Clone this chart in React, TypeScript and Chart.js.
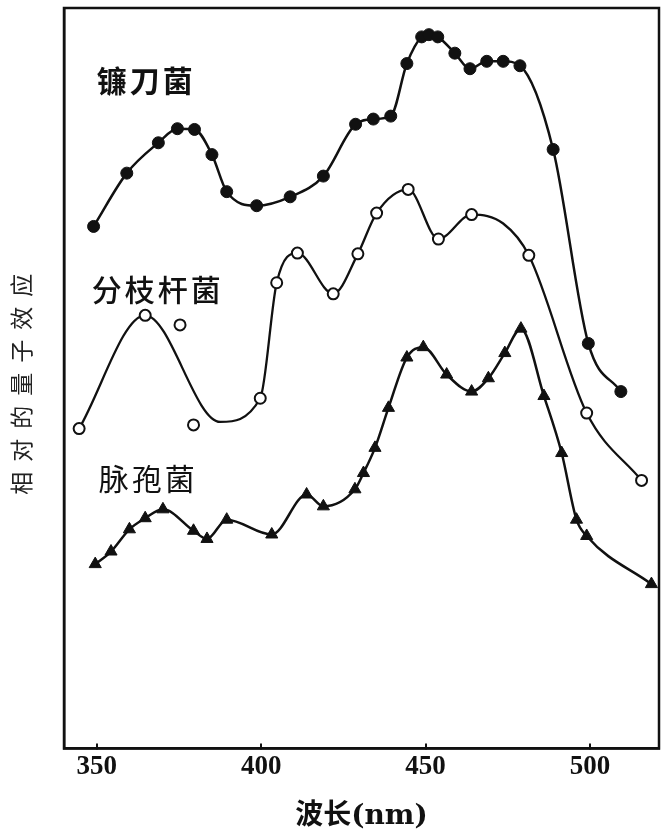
import { useEffect, useRef } from "react";
import { Chart, registerables } from "chart.js";

Chart.register(...registerables);

// ---- axis ----
const xTickValues = [350, 400, 450, 500];
const xRange = [340, 521];
const yRange = [0, 100];
const xTitle = "波长(nm)";
const yTitle = "相对的量子效应";

// ---- 镰刀菌 (filled circles) ----
const fusariumX = [349.0, 359.1, 368.7, 374.5, 379.7, 385.0, 389.5, 398.6, 408.8, 418.9, 428.7, 434.1, 439.4, 444.3, 448.8, 451.0, 453.7, 458.9, 463.5, 468.6, 473.6, 478.7, 488.8, 499.5, 509.4];
const fusariumY = [70.5, 77.7, 81.8, 83.7, 83.6, 80.2, 75.2, 73.3, 74.5, 77.3, 84.3, 85.0, 85.4, 92.5, 96.1, 96.4, 96.1, 93.9, 91.8, 92.8, 92.8, 92.2, 80.9, 54.7, 48.2];

// ---- 分枝杆菌 (open circles) ----
const mycoX = [344.6, 364.7, 399.7, 404.7, 411.0, 421.9, 429.4, 435.1, 444.7, 453.9, 464.0, 481.4, 499.0, 515.7];
const mycoY = [43.2, 58.5, 47.3, 62.9, 66.9, 61.4, 66.8, 72.3, 75.5, 68.8, 72.1, 66.6, 45.3, 36.2];
// measured points lying off the drawn curve
const mycoStrayX = [375.3, 379.4];
const mycoStrayY = [57.2, 43.7];
// curve-only points (where the hand-drawn curve bends between markers)
const mycoCurveX = [387.5, 473.6];
const mycoCurveY = [44.1, 70.9];

// ---- 脉孢菌 (triangles) ----
const neuroX = [349.5, 354.3, 359.9, 364.7, 370.1, 379.4, 383.5, 389.5, 403.2, 413.8, 418.9, 428.5, 431.1, 434.6, 438.7, 444.3, 449.3, 456.4, 464.0, 469.1, 474.1, 479.0, 486.0, 491.4, 495.9, 499.0, 518.7];
const neuroY = [24.9, 26.6, 29.6, 31.1, 32.3, 29.4, 28.3, 30.9, 28.9, 34.3, 32.7, 35.0, 37.2, 40.6, 46.0, 52.8, 54.2, 50.5, 48.2, 50.0, 53.4, 56.7, 47.6, 39.9, 30.9, 28.7, 22.2];

// ---- series names placed in the plot ----
const seriesNames = ["镰刀菌", "分枝杆菌", "脉孢菌"];
const nameX = [365.0, 368.5, 365.6];
const nameY = [90.2, 62.0, 36.5];

const INK = "#111";

function toPoints(xs: number[], ys: number[]) {
  return xs.map((x, i) => ({ x, y: ys[i] }));
}

const framePlugin = {
  id: "frameAndTexts",
  beforeDatasetsDraw(chart: any) {
    const { ctx, chartArea: a } = chart;
    ctx.save();
    ctx.strokeStyle = INK;
    ctx.lineWidth = 2.5;
    ctx.strokeRect(a.left, a.top, a.right - a.left, a.bottom - a.top);
    ctx.restore();
  },
  afterDraw(chart: any) {
    const { ctx, chartArea: a, scales } = chart;
    const weights = [700, 500, 400];
    ctx.save();
    ctx.fillStyle = INK;
    ctx.textAlign = "center";
    ctx.textBaseline = "middle";
    seriesNames.forEach((name, i) => {
      ctx.font = `${weights[i]} 30px 'Noto Sans CJK SC', sans-serif`;
      (ctx as any).letterSpacing = "3px";
      ctx.fillText(name, scales.x.getPixelForValue(nameX[i]), scales.y.getPixelForValue(nameY[i]));
    });
    ctx.restore();

    ctx.save();
    ctx.fillStyle = "#222";
    ctx.textAlign = "center";
    ctx.textBaseline = "middle";
    ctx.translate(21, (a.top + a.bottom) / 2 + 6);
    ctx.rotate(-Math.PI / 2);
    ctx.font = "400 23px 'Noto Sans CJK SC', sans-serif";
    (ctx as any).letterSpacing = "10px";
    ctx.fillText(yTitle, 5, 0);
    ctx.restore();
  },
};

export default function App() {
  const canvasRef = useRef<HTMLCanvasElement | null>(null);

  useEffect(() => {
    const canvas = canvasRef.current;
    if (!canvas) return;

    const mycoCurve = toPoints(mycoX, mycoY)
      .concat(toPoints(mycoCurveX, mycoCurveY))
      .sort((p, q) => p.x - q.x);
    const mycoMarkers = toPoints(mycoX, mycoY).concat(toPoints(mycoStrayX, mycoStrayY));

    const chart = new Chart(canvas, {
      type: "line",
      data: {
        datasets: [
          {
            label: seriesNames[0],
            data: toPoints(fusariumX, fusariumY),
            borderColor: INK,
            borderWidth: 2.5,
            pointStyle: "circle",
            pointRadius: 6,
            pointBackgroundColor: INK,
            pointBorderColor: INK,
            pointBorderWidth: 1,
            cubicInterpolationMode: "monotone",
            order: 1,
          },
          {
            label: seriesNames[1] + " curve",
            data: mycoCurve,
            borderColor: INK,
            borderWidth: 2.3,
            pointRadius: 0,
            cubicInterpolationMode: "monotone",
            order: 3,
          },
          {
            label: seriesNames[1],
            data: mycoMarkers,
            showLine: false,
            pointStyle: "circle",
            pointRadius: 5.5,
            pointBackgroundColor: "#fff",
            pointBorderColor: INK,
            pointBorderWidth: 2,
            order: 0,
          },
          {
            label: seriesNames[2],
            data: toPoints(neuroX, neuroY),
            borderColor: INK,
            borderWidth: 2.5,
            pointStyle: "triangle",
            pointRadius: 7,
            pointBackgroundColor: INK,
            pointBorderColor: INK,
            pointBorderWidth: 1,
            cubicInterpolationMode: "monotone",
            order: 1,
          },
        ],
      },
      options: {
        animation: false,
        responsive: false,
        maintainAspectRatio: false,
        devicePixelRatio: 1,
        layout: { padding: { left: 64, right: 9, top: 2, bottom: 0 } },
        plugins: {
          legend: { display: false },
          tooltip: { enabled: false },
        },
        scales: {
          x: {
            type: "linear",
            min: xRange[0],
            max: xRange[1],
            afterBuildTicks: (scale: any) => {
              scale.ticks = xTickValues.map((v) => ({ value: v }));
            },
            grid: {
              display: true,
              drawOnChartArea: false,
              drawTicks: true,
              tickLength: -5,
              color: INK,
              lineWidth: 2,
            },
            border: { display: true, color: INK, width: 2.5 },
            ticks: {
              color: INK,
              padding: 7.5,
              font: { family: "'Liberation Serif', serif", size: 27, weight: "bold" },
            },
            title: {
              display: true,
              text: xTitle,
              color: INK,
              font: { family: "'DejaVu Serif', 'Noto Sans CJK SC', serif", size: 28, weight: "bold" },
              padding: { top: 9.5, bottom: 0 },
            },
          },
          y: {
            type: "linear",
            min: yRange[0],
            max: yRange[1],
            ticks: { display: false },
            grid: { display: false, drawTicks: false },
            border: { display: true, color: INK, width: 2.5 },
          },
        },
      },
      plugins: [framePlugin],
    } as any);

    return () => chart.destroy();
  }, []);

  return (
    <div style={{ position: "absolute", left: 0, top: 0, width: 668, height: 834, background: "#fff" }}>
      <canvas ref={canvasRef} width={668} height={834} style={{ display: "block", width: 668, height: 834 }} />
    </div>
  );
}
